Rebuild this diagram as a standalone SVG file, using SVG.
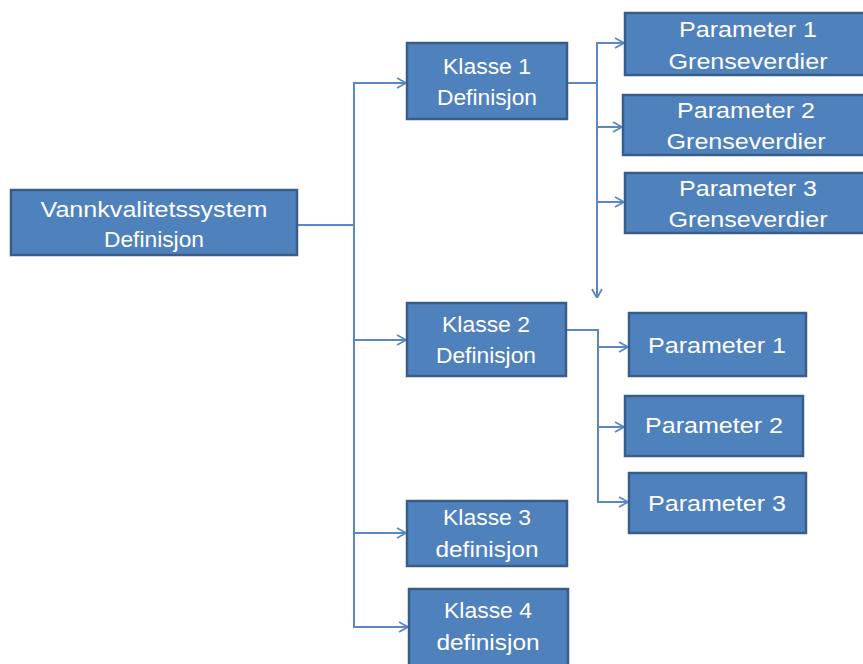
<svg xmlns="http://www.w3.org/2000/svg" width="863" height="664" viewBox="0 0 863 664">
<defs>
<marker id="arr" viewBox="0 0 10 12" refX="10" refY="6" markerWidth="10" markerHeight="12" markerUnits="userSpaceOnUse" orient="auto">
<path d="M1,1 L10,6 L1,11" fill="none" stroke="#5B87C5" stroke-width="1.8"/>
</marker>
<style>
.box{fill:#4F81BD;stroke:#385D8A;stroke-width:2.5}
.t{font-family:"Liberation Sans",Arial,sans-serif;font-size:22px;fill:#FFFFFF;text-anchor:middle}
.c{fill:none;stroke:#5B87C5;stroke-width:2}
</style>
</defs>
<rect width="863" height="664" fill="#FFFFFF"/>
<g id="connectors">
<path class="c" d="M297,225 H354 V83 H406" marker-end="url(#arr)"/>
<path class="c" d="M354,225 V340 H406" marker-end="url(#arr)"/>
<path class="c" d="M354,340 V533 H406" marker-end="url(#arr)"/>
<path class="c" d="M354,533 V627 H408" marker-end="url(#arr)"/>
<path class="c" d="M567,83 H597 V43 H624" marker-end="url(#arr)"/>
<path class="c" d="M597,83 V127 H622" marker-end="url(#arr)"/>
<path class="c" d="M597,127 V202 H624" marker-end="url(#arr)"/>
<path class="c" d="M597,202 V298" marker-end="url(#arr)"/>
<path class="c" d="M566,330 H598 V347 H628" marker-end="url(#arr)"/>
<path class="c" d="M598,347 V427 H624" marker-end="url(#arr)"/>
<path class="c" d="M598,427 V502 H628" marker-end="url(#arr)"/>
</g>
<g id="vannkvalitetssystem">
<rect class="box" x="11" y="190" width="286" height="65"/>
<text class="t" x="154" y="217" textLength="227" lengthAdjust="spacingAndGlyphs">Vannkvalitetssystem</text>
<text class="t" x="154" y="247" textLength="100" lengthAdjust="spacingAndGlyphs">Definisjon</text>
</g>
<g id="klasse1">
<rect class="box" x="407" y="43" width="160" height="76"/>
<text class="t" x="487" y="74" textLength="88" lengthAdjust="spacingAndGlyphs">Klasse 1</text>
<text class="t" x="487" y="105" textLength="100" lengthAdjust="spacingAndGlyphs">Definisjon</text>
</g>
<g id="k1param1">
<rect class="box" x="625" y="13" width="250" height="62"/>
<text class="t" x="748" y="37" textLength="138" lengthAdjust="spacingAndGlyphs">Parameter 1</text>
<text class="t" x="748" y="69" textLength="159" lengthAdjust="spacingAndGlyphs">Grenseverdier</text>
</g>
<g id="k1param2">
<rect class="box" x="623" y="95" width="250" height="60"/>
<text class="t" x="746" y="118" textLength="138" lengthAdjust="spacingAndGlyphs">Parameter 2</text>
<text class="t" x="746" y="149" textLength="159" lengthAdjust="spacingAndGlyphs">Grenseverdier</text>
</g>
<g id="k1param3">
<rect class="box" x="625" y="173" width="250" height="60"/>
<text class="t" x="748" y="196" textLength="138" lengthAdjust="spacingAndGlyphs">Parameter 3</text>
<text class="t" x="748" y="227" textLength="159" lengthAdjust="spacingAndGlyphs">Grenseverdier</text>
</g>
<g id="klasse2">
<rect class="box" x="407" y="303" width="159" height="73"/>
<text class="t" x="486" y="332" textLength="88" lengthAdjust="spacingAndGlyphs">Klasse 2</text>
<text class="t" x="486" y="363" textLength="100" lengthAdjust="spacingAndGlyphs">Definisjon</text>
</g>
<g id="k2param1">
<rect class="box" x="629" y="313" width="177" height="63"/>
<text class="t" x="717" y="353" textLength="138" lengthAdjust="spacingAndGlyphs">Parameter 1</text>
</g>
<g id="k2param2">
<rect class="box" x="625" y="396" width="178" height="60"/>
<text class="t" x="714" y="433" textLength="138" lengthAdjust="spacingAndGlyphs">Parameter 2</text>
</g>
<g id="k2param3">
<rect class="box" x="629" y="473" width="177" height="60"/>
<text class="t" x="717" y="511" textLength="138" lengthAdjust="spacingAndGlyphs">Parameter 3</text>
</g>
<g id="klasse3">
<rect class="box" x="407" y="501" width="160" height="65"/>
<text class="t" x="487" y="525" textLength="88" lengthAdjust="spacingAndGlyphs">Klasse 3</text>
<text class="t" x="487" y="557" textLength="103" lengthAdjust="spacingAndGlyphs">definisjon</text>
</g>
<g id="klasse4">
<rect class="box" x="409" y="589" width="159" height="80"/>
<text class="t" x="488" y="618" textLength="88" lengthAdjust="spacingAndGlyphs">Klasse 4</text>
<text class="t" x="488" y="650" textLength="103" lengthAdjust="spacingAndGlyphs">definisjon</text>
</g>
</svg>
